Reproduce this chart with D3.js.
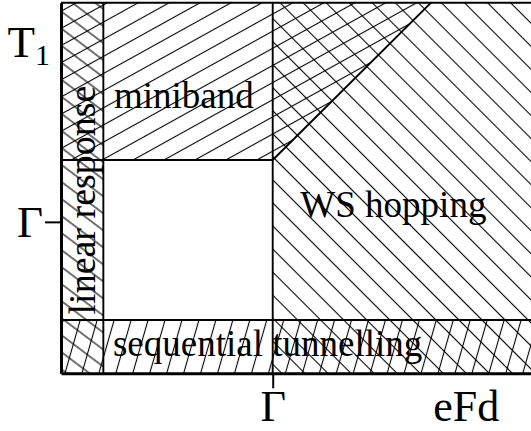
<!DOCTYPE html>
<html>
<head>
<meta charset="utf-8">
<script src="https://cdn.jsdelivr.net/npm/d3@7"></script>
<style>
  html, body { margin: 0; padding: 0; background: #fff; }
  svg { display: block; }
</style>
</head>
<body>
<div class="chart"></div>
<script>
// regime diagram, plot units (x: eFd, y: temperature)
const xDomain = [0, 11.1];
const yDomain = [0, 6.95];
const xBreaks = [1, 5];                      // linear response edge, eFd = Γ
const yBreaks = [1, 4];                      // top of sequential tunnelling, bottom of miniband
const crossover = [[5, 4], [8.74, 6.95]];    // miniband -> WS hopping line

const regionNames = ['miniband', 'linear response', 'WS hopping', 'sequential tunnelling'];

const xTickValues = [5];
const xTickLabels = ['Γ'];
const yTickValues = [2.84, 6.21];
const yTickLabels = ['Γ', 'T1'];
const xTitle = 'eFd';

const drawDiagram = (selector, outerWidth, outerHeight) => {
    const margin = {top: 2.7, right: 0, bottom: 57.7, left: 61};
    const width = outerWidth - margin.left - margin.right;
    const height = outerHeight - margin.top - margin.bottom;
    const serif = '"Liberation Serif", "Times New Roman", serif';

    const root = d3.select(selector).append('svg')
        .attr('width', outerWidth)
        .attr('height', outerHeight);
    root.append('rect').attr('width', outerWidth).attr('height', outerHeight).attr('fill', '#fff');

    // hatch patterns
    const hatches = [
        {id: 'h-mini', angle: -29, gap: 15},
        {id: 'h-lin', angle: 37, gap: 13.6},
        {id: 'h-ws', angle: 45, gap: 16.3},
        {id: 'h-seq', angle: -74, gap: 16.3},
    ];
    const defs = root.append('defs');
    hatches.forEach(h => {
        const p = defs.append('pattern')
            .attr('id', h.id)
            .attr('patternUnits', 'userSpaceOnUse')
            .attr('width', 20)
            .attr('height', h.gap)
            .attr('patternTransform', `rotate(${h.angle})`);
        p.append('line')
            .attr('x1', -1).attr('x2', 21)
            .attr('y1', h.gap / 2).attr('y2', h.gap / 2)
            .attr('stroke', '#000')
            .attr('stroke-width', 1.1);
    });

    const svg = root.append('g')
        .attr('transform', 'translate(' + margin.left + ',' + margin.top + ')');

    const x = d3.scaleLinear().domain(xDomain).range([0, width]);
    const y = d3.scaleLinear().domain(yDomain).range([height, 0]);

    const [x0, x1] = xDomain;
    const [y0, y1] = yDomain;
    const rect = (xa, xb, ya, yb) => [[xa, ya], [xb, ya], [xb, yb], [xa, yb]];

    const regions = [
        {name: regionNames[0], fill: 'h-mini',
            pts: [[x0, y1], [crossover[1][0], y1], crossover[0], [x0, yBreaks[1]]]},
        {name: regionNames[1], fill: 'h-lin', pts: rect(x0, xBreaks[0], y0, y1)},
        {name: regionNames[2], fill: 'h-ws', pts: rect(xBreaks[1], x1, y0, y1)},
        {name: regionNames[3], fill: 'h-seq', pts: rect(x0, x1, y0, yBreaks[0])},
    ];

    const line = d3.line().x(d => x(d[0])).y(d => y(d[1]));

    svg.selectAll('path.region')
        .data(regions)
        .join('path')
        .attr('class', 'region')
        .attr('d', d => line(d.pts) + 'Z')
        .attr('fill', d => `url(#${d.fill})`);

    // regime boundaries
    const borders = [
        [[xBreaks[0], y0], [xBreaks[0], y1]],
        [[xBreaks[1], y0], [xBreaks[1], y1]],
        [[x0, yBreaks[0]], [x1, yBreaks[0]]],
        [[x0, yBreaks[1]], [xBreaks[1], yBreaks[1]]],
        crossover,
        [[x0, y1], [x1, y1]],
    ];
    svg.selectAll('path.border')
        .data(borders)
        .join('path')
        .attr('class', 'border')
        .attr('d', line)
        .attr('fill', 'none')
        .attr('stroke', '#000')
        .attr('stroke-width', 1.9);

    // region labels
    const label = (txt, px, py) => svg.append('text')
        .attr('x', px).attr('y', py)
        .attr('text-anchor', 'middle')
        .attr('font-family', serif)
        .attr('font-size', 37)
        .text(txt);
    label(regionNames[0], x(2.9), y(4.97));
    label(regionNames[2], x(7.85), y(2.93));
    label(regionNames[3], x(4.88), y(0.325));
    label(regionNames[1], 0, 0)
        .attr('font-size', 38)
        .attr('transform', `translate(${x(0.8)},${y(3.25)}) rotate(-90)`);

    // axes
    const xAxis = svg.append('g')
        .attr('transform', 'translate(0,' + height + ')')
        .call(d3.axisBottom(x)
            .tickValues(xTickValues)
            .tickFormat((d, i) => xTickLabels[i])
            .tickSize(15)
            .tickSizeOuter(0)
            .tickPadding(1.5));
    const yAxis = svg.append('g')
        .call(d3.axisLeft(y)
            .tickValues(yTickValues)
            .tickFormat((d, i) => yTickLabels[i])
            .tickSize(16)
            .tickSizeOuter(0)
            .tickPadding(2));

    [xAxis, yAxis].forEach(ax => {
        ax.attr('font-family', serif).attr('font-size', 44);
        ax.select('.domain').attr('stroke', '#000').attr('stroke-width', 3);
        ax.selectAll('.tick line').attr('stroke', '#000').attr('stroke-width', 2);
        ax.selectAll('.tick text').attr('fill', '#000');
    });
    yAxis.attr('font-size', 45);

    // T1: no tick mark, subscripted label
    yAxis.selectAll('.tick')
        .filter((d, i) => yTickLabels[i] === 'T1')
        .each(function () {
            const t = d3.select(this);
            t.select('line').remove();
            const tx = t.select('text').attr('x', -11).text('T');
            tx.append('tspan')
                .attr('font-size', 30)
                .attr('dy', 8)
                .text('1');
        });

    // axis title
    svg.append('text')
        .attr('x', x(9.57))
        .attr('y', height + 47.7)
        .attr('text-anchor', 'middle')
        .attr('font-family', serif)
        .attr('font-size', 44)
        .text(xTitle);
};

drawDiagram('.chart', 531, 431);
</script>
</body>
</html>
